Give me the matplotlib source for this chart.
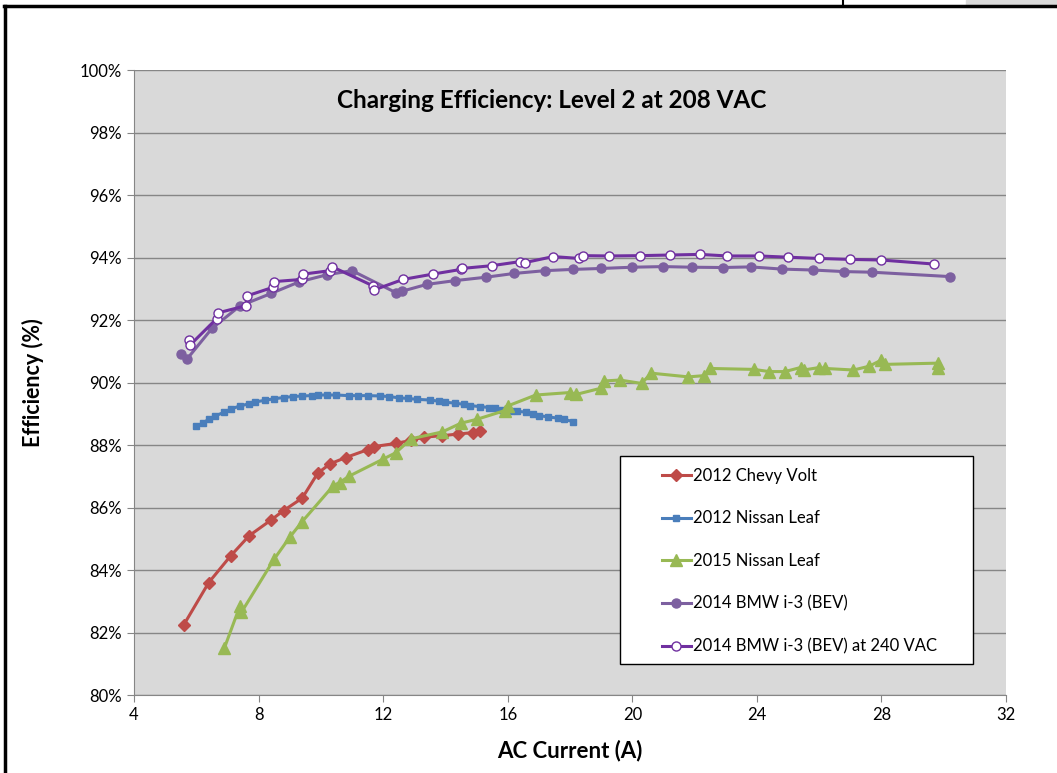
# Charging efficiency vs AC current, Level 2 at 208 VAC
import matplotlib
matplotlib.use('Agg')
import matplotlib.pyplot as plt
from matplotlib.ticker import FuncFormatter, MultipleLocator
from matplotlib.lines import Line2D
from matplotlib.patches import Rectangle

plt.rcParams['font.family'] = ['Lato', 'DejaVu Sans']

# 2012 Chevy Volt
volt_x = [5.6, 6.4, 7.1, 7.7, 8.4, 8.8, 9.4, 9.9, 10.3, 10.8, 11.5, 11.7, 12.4,
          12.9, 13.3, 13.9, 14.4, 14.9, 15.1]
volt_y = [82.25, 83.6, 84.45, 85.1, 85.6, 85.9, 86.3, 87.1, 87.4, 87.6, 87.85,
          87.95, 88.05, 88.15, 88.25, 88.3, 88.35, 88.4, 88.45]

# 2012 Nissan Leaf
leaf12_x = [6.0, 6.2, 6.4, 6.6, 6.9, 7.1, 7.4, 7.7, 7.9, 8.2, 8.5, 8.8, 9.1, 9.4,
            9.7, 9.9, 10.2, 10.5, 10.9, 11.2, 11.5, 11.9, 12.2, 12.5, 12.8, 13.1,
            13.5, 13.8, 14.0, 14.3, 14.6, 14.8, 15.1, 15.4, 15.6, 15.8, 16.1, 16.3,
            16.6, 16.8, 17.0, 17.3, 17.6, 17.8, 18.1]
leaf12_y = [88.6, 88.7, 88.82, 88.93, 89.05, 89.15, 89.25, 89.32, 89.38, 89.43,
            89.48, 89.52, 89.55, 89.57, 89.58, 89.6, 89.6, 89.6, 89.58, 89.58,
            89.58, 89.57, 89.55, 89.51, 89.49, 89.46, 89.44, 89.4, 89.37, 89.34,
            89.3, 89.26, 89.23, 89.2, 89.17, 89.12, 89.1, 89.08, 89.05, 88.98,
            88.94, 88.9, 88.86, 88.82, 88.75]

# 2015 Nissan Leaf
leaf15_x = [6.9, 7.4, 7.45, 8.5, 9.0, 9.4, 10.4, 10.6, 10.9, 12.0, 12.4, 12.9,
            13.9, 14.5, 15.0, 15.9, 16.0, 16.9, 18.0, 18.2, 19.0, 19.1, 19.6, 20.3,
            20.6, 21.8, 22.3, 22.5, 23.9, 24.4, 24.9, 25.4, 25.5, 26.0, 26.2, 27.1,
            27.6, 28.0, 28.1, 29.8, 29.8]
leaf15_y = [81.5, 82.85, 82.65, 84.35, 85.05, 85.55, 86.7, 86.8, 87.0, 87.55,
            87.75, 88.2, 88.42, 88.7, 88.82, 89.1, 89.25, 89.6, 89.68, 89.62, 89.82,
            90.05, 90.08, 89.97, 90.3, 90.18, 90.22, 90.45, 90.42, 90.35, 90.35,
            90.48, 90.4, 90.48, 90.45, 90.4, 90.52, 90.72, 90.58, 90.62, 90.48]

# 2014 BMW i-3 (BEV)
bmw_x = [5.5, 5.7, 6.5, 7.4, 8.4, 9.3, 10.2, 11.0, 12.4, 12.6, 13.4, 14.3, 15.3,
         16.2, 17.2, 18.1, 19.0, 20.0, 21.0, 21.9, 22.9, 23.8, 24.8, 25.8, 26.8,
         27.7, 30.2]
bmw_y = [90.9, 90.75, 91.73, 92.45, 92.85, 93.22, 93.45, 93.58, 92.88, 92.92,
         93.14, 93.26, 93.37, 93.49, 93.58, 93.62, 93.65, 93.69, 93.71, 93.69,
         93.68, 93.7, 93.63, 93.6, 93.55, 93.53, 93.39]

# 2014 BMW i-3 (BEV) at 240 VAC
bmw240_x = [5.75, 5.8, 6.65, 6.7, 7.6, 7.62, 8.47, 8.5, 9.4, 9.44, 10.3, 10.35,
            11.68, 11.7, 12.64, 13.6, 14.5, 14.52, 15.5, 16.4, 16.56, 17.46, 18.3,
            18.41, 19.26, 20.25, 21.21, 22.17, 23.05, 24.08, 25.01, 26.0, 26.99,
            27.99, 29.7]
bmw240_y = [91.36, 91.2, 92.04, 92.23, 92.46, 92.77, 93.05, 93.23, 93.3, 93.47,
            93.58, 93.71, 93.09, 92.96, 93.3, 93.47, 93.62, 93.65, 93.74, 93.87,
            93.84, 94.03, 93.97, 94.06, 94.05, 94.06, 94.08, 94.1, 94.05, 94.05,
            94.01, 93.97, 93.94, 93.92, 93.79]

fig = plt.figure(figsize=(10.57, 7.73), dpi=100)
ax = fig.add_axes([0.1268, 0.1009, 0.825, 0.8085])
ax.set_facecolor('#D9D9D9')

ax.plot(volt_x, volt_y, color='#BE4B48', lw=2.2, marker='D', ms=6.5,
        label='2012 Chevy Volt')
ax.plot(leaf12_x, leaf12_y, color='#4A7EBB', lw=2.2, marker='s', ms=5,
        label='2012 Nissan Leaf')
ax.plot(leaf15_x, leaf15_y, color='#98B954', lw=2.2, marker='^', ms=9,
        label='2015 Nissan Leaf')
ax.plot(bmw_x, bmw_y, color='#7D60A0', lw=2.2, marker='o', ms=6.5,
        label='2014 BMW i-3 (BEV)')
ax.plot(bmw240_x, bmw240_y, color='#7030A0', lw=2.2, marker='o', ms=6.5,
        mfc='white', mec='#7030A0', mew=1.0,
        label='2014 BMW i-3 (BEV) at 240 VAC')

ax.set_xlim(4, 32)
ax.set_ylim(80, 100)
ax.xaxis.set_major_locator(MultipleLocator(4))
ax.yaxis.set_major_locator(MultipleLocator(2))
ax.yaxis.set_major_formatter(FuncFormatter(lambda v, p: '%d%%' % round(v)))
ax.grid(axis='y', color='#868686', lw=1.0)
ax.set_axisbelow(True)
for s in ['top', 'right']:
    ax.spines[s].set_visible(False)
for s in ['left', 'bottom']:
    ax.spines[s].set_color('#868686')
ax.tick_params(colors='#868686', labelcolor='black', labelsize=12, length=5)

ax.set_xlabel('AC Current (A)', fontsize=16, fontweight='bold', labelpad=12)
ax.set_ylabel('Efficiency (%)', fontsize=15.5, fontweight='bold', labelpad=26)
ax.text(0.479, 0.952, 'Charging Efficiency: Level 2 at 208 VAC', transform=ax.transAxes,
        ha='center', va='center', fontsize=17.5, fontweight='bold')

# legend box drawn separately so the entries can sit inset like the original
ax.add_patch(Rectangle((0.557, 0.0496), 0.405, 0.333, transform=ax.transAxes,
                       facecolor='white', edgecolor='black', lw=1.0, zorder=4))
leg = ax.legend(loc='center left', bbox_to_anchor=(0.605, 0.214),
                fontsize=12, frameon=False, labelspacing=1.6,
                handlelength=1.75, handletextpad=0.15, borderpad=0,
                borderaxespad=0)
leg.set_zorder(5)

# outer chart border
fig.add_artist(Line2D([0.004, 1.0], [0.992, 0.992], color='black', lw=2.5))
fig.add_artist(Line2D([0.005, 0.005], [0.0, 0.992], color='black', lw=2.5))
fig.add_artist(Line2D([0.798, 0.798], [0.992, 1.0], color='black', lw=1.5))
fig.add_artist(Rectangle((0.914, 0.993), 0.086, 0.007, color='#D9D9D9', transform=fig.transFigure))

fig.savefig('out.png', dpi=100)
